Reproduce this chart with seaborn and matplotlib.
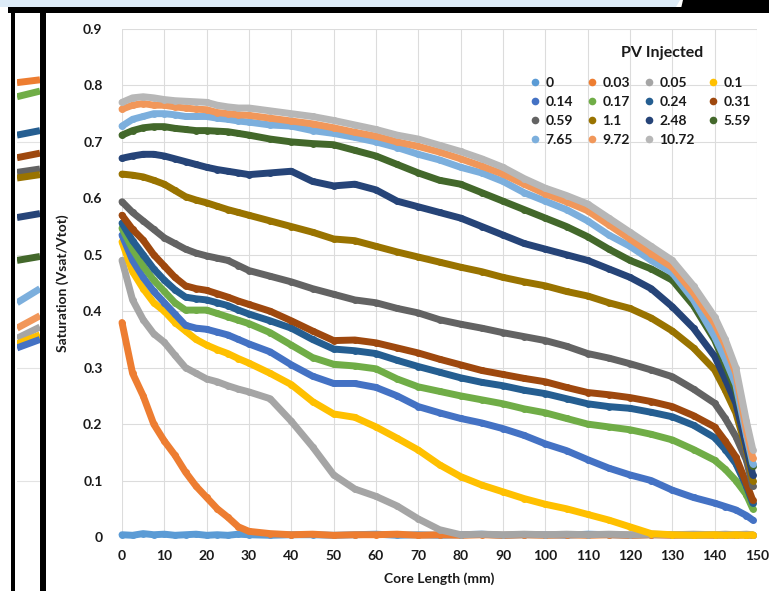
import matplotlib
matplotlib.use("Agg")
import matplotlib.pyplot as plt
from matplotlib.lines import Line2D
from matplotlib.patches import Rectangle, Polygon
import pandas as pd
import seaborn as sns

# core position (mm) of the sampled points
core_mm = [0, 2.5, 5, 7.5, 10, 12.5, 15, 17.5, 20, 22.5, 25, 27.5, 30,
           35, 40, 45, 50, 55, 60, 65, 70, 75, 80, 85, 90, 95, 100, 105,
           110, 115, 120, 125, 130, 135, 140, 142.5, 145, 147.5, 149]

# saturation profiles, one list per PV injected
pv_0 = [0.004, 0.003, 0.006, 0.004, 0.005, 0.003, 0.004, 0.005, 0.003, 0.004, 0.003, 0.005, 0.004,
        0.003, 0.004, 0.004, 0.003, 0.004, 0.005, 0.003, 0.004, 0.003, 0.004, 0.005, 0.003, 0.004,
        0.004, 0.003, 0.005, 0.004, 0.003, 0.004, 0.004, 0.003, 0.004, 0.003, 0.004, 0.004, 0.003]
pv_003 = [0.38, 0.29, 0.25, 0.2, 0.17, 0.145, 0.115, 0.09, 0.07, 0.05, 0.035, 0.018, 0.01,
          0.006, 0.004, 0.005, 0.003, 0.004, 0.004, 0.005, 0.003, 0.004, 0.003, 0.004, 0.003, 0.004,
          0.003, 0.004, 0.003, 0.004, 0.003, 0.004, 0.003, 0.004, 0.003, 0.004, 0.003, 0.004, 0.003]
pv_005 = [0.49, 0.42, 0.385, 0.36, 0.345, 0.322, 0.3, 0.29, 0.28, 0.275, 0.268, 0.262, 0.257,
          0.245, 0.205, 0.16, 0.11, 0.085, 0.072, 0.055, 0.032, 0.013, 0.004, 0.005, 0.004, 0.005,
          0.004, 0.005, 0.004, 0.005, 0.004, 0.005, 0.004, 0.005, 0.004, 0.005, 0.004, 0.005, 0.004]
pv_01 = [0.523, 0.47, 0.44, 0.415, 0.4, 0.38, 0.365, 0.35, 0.34, 0.332, 0.325, 0.316, 0.308,
         0.29, 0.27, 0.24, 0.218, 0.212, 0.195, 0.175, 0.154, 0.128, 0.107, 0.092, 0.08, 0.068,
         0.058, 0.05, 0.04, 0.03, 0.018, 0.006, 0.004, 0.003, 0.004, 0.003, 0.004, 0.003, 0.004]
pv_014 = [0.535, 0.49, 0.46, 0.435, 0.415, 0.395, 0.375, 0.37, 0.368, 0.363, 0.358, 0.35, 0.342,
          0.328, 0.305, 0.285, 0.272, 0.272, 0.265, 0.25, 0.231, 0.22, 0.21, 0.202, 0.192, 0.18,
          0.165, 0.153, 0.137, 0.122, 0.11, 0.1, 0.083, 0.07, 0.06, 0.054, 0.048, 0.038, 0.03]
pv_017 = [0.547, 0.51, 0.48, 0.455, 0.435, 0.415, 0.402, 0.402, 0.402, 0.396, 0.39, 0.384, 0.378,
          0.362, 0.34, 0.318, 0.306, 0.303, 0.298, 0.28, 0.266, 0.258, 0.25, 0.243, 0.236, 0.227,
          0.22, 0.21, 0.2, 0.195, 0.19, 0.182, 0.172, 0.155, 0.136, 0.12, 0.1, 0.075, 0.05]
pv_024 = [0.556, 0.525, 0.5, 0.475, 0.455, 0.438, 0.425, 0.422, 0.42, 0.415, 0.41, 0.402, 0.395,
          0.383, 0.37, 0.35, 0.333, 0.33, 0.325, 0.313, 0.302, 0.292, 0.282, 0.274, 0.268, 0.26,
          0.254, 0.245, 0.236, 0.231, 0.228, 0.221, 0.213, 0.198, 0.176, 0.155, 0.13, 0.09, 0.06]
pv_031 = [0.57, 0.545, 0.526, 0.5, 0.48, 0.46, 0.445, 0.44, 0.437, 0.431, 0.425, 0.418, 0.412,
          0.4, 0.383, 0.365, 0.348, 0.349, 0.344, 0.335, 0.326, 0.315, 0.305, 0.295, 0.288, 0.281,
          0.275, 0.265, 0.256, 0.252, 0.247, 0.24, 0.231, 0.215, 0.195, 0.17, 0.142, 0.095, 0.065]
pv_059 = [0.594, 0.575, 0.56, 0.545, 0.53, 0.52, 0.51, 0.503, 0.498, 0.494, 0.49, 0.481, 0.472,
          0.462, 0.452, 0.44, 0.43, 0.42, 0.415, 0.405, 0.397, 0.385, 0.377, 0.37, 0.362, 0.355,
          0.348, 0.338, 0.325, 0.317, 0.307, 0.296, 0.284, 0.262, 0.237, 0.21, 0.178, 0.136, 0.09]
pv_11 = [0.643, 0.641, 0.638, 0.632, 0.625, 0.614, 0.603, 0.597, 0.592, 0.586, 0.58, 0.575, 0.57,
         0.56, 0.55, 0.54, 0.528, 0.525, 0.515, 0.505, 0.496, 0.487, 0.478, 0.47, 0.46, 0.452,
         0.445, 0.435, 0.427, 0.415, 0.405, 0.388, 0.365, 0.335, 0.296, 0.26, 0.22, 0.155, 0.1]
pv_248 = [0.671, 0.675, 0.678, 0.678, 0.675, 0.67, 0.665, 0.66, 0.655, 0.651, 0.648, 0.645, 0.642,
          0.645, 0.648, 0.63, 0.622, 0.625, 0.615, 0.595, 0.585, 0.575, 0.565, 0.55, 0.535, 0.52,
          0.51, 0.5, 0.49, 0.475, 0.46, 0.44, 0.408, 0.37, 0.32, 0.28, 0.237, 0.16, 0.11]
pv_559 = [0.712, 0.72, 0.725, 0.727, 0.727, 0.724, 0.722, 0.72, 0.72, 0.719, 0.718, 0.715, 0.712,
          0.705, 0.7, 0.697, 0.695, 0.685, 0.675, 0.66, 0.645, 0.632, 0.625, 0.61, 0.595, 0.58,
          0.565, 0.55, 0.532, 0.51, 0.49, 0.475, 0.455, 0.41, 0.349, 0.305, 0.26, 0.185, 0.125]
pv_765 = [0.728, 0.74, 0.745, 0.75, 0.75, 0.748, 0.745, 0.745, 0.745, 0.742, 0.74, 0.737, 0.735,
          0.73, 0.728, 0.72, 0.715, 0.708, 0.7, 0.69, 0.678, 0.668, 0.655, 0.645, 0.63, 0.61,
          0.595, 0.58, 0.56, 0.535, 0.515, 0.49, 0.468, 0.42, 0.355, 0.315, 0.27, 0.18, 0.13]
pv_972 = [0.758, 0.765, 0.768, 0.765, 0.765, 0.762, 0.76, 0.758, 0.757, 0.752, 0.75, 0.748, 0.747,
          0.742, 0.737, 0.732, 0.725, 0.717, 0.71, 0.7, 0.692, 0.682, 0.67, 0.657, 0.643, 0.625,
          0.608, 0.594, 0.578, 0.553, 0.528, 0.502, 0.478, 0.432, 0.378, 0.34, 0.29, 0.19, 0.14]
pv_1072 = [0.77, 0.778, 0.78, 0.778, 0.775, 0.773, 0.772, 0.771, 0.77, 0.765, 0.762, 0.76, 0.76,
           0.755, 0.75, 0.745, 0.738, 0.73, 0.722, 0.712, 0.705, 0.694, 0.683, 0.67, 0.655, 0.635,
           0.618, 0.605, 0.59, 0.565, 0.54, 0.515, 0.49, 0.445, 0.39, 0.35, 0.3, 0.205, 0.155]

pv_labels = ["0", "0.03", "0.05", "0.1", "0.14", "0.17", "0.24", "0.31",
             "0.59", "1.1", "2.48", "5.59", "7.65", "9.72", "10.72"]
profiles = [pv_0, pv_003, pv_005, pv_01, pv_014, pv_017, pv_024, pv_031,
            pv_059, pv_11, pv_248, pv_559, pv_765, pv_972, pv_1072]
colors = ["#5B9BD5", "#ED7D31", "#A5A5A5", "#FFC000", "#4472C4", "#70AD47", "#255E91", "#9E480E",
          "#636363", "#997300", "#264478", "#43682B", "#7CAFDD", "#F1975A", "#B7B7B7"]

# bits of the neighbouring chart that show at the left edge of the screenshot
side_y_start = [0.805, 0.78, 0.712, 0.672, 0.646, 0.636, 0.566, 0.49, 0.415, 0.37, 0.352, 0.342, 0.335]
side_y_end = [0.81, 0.79, 0.72, 0.68, 0.652, 0.642, 0.573, 0.497, 0.44, 0.392, 0.372, 0.358, 0.35]
side_colors = ["#ED7D31", "#70AD47", "#255E91", "#9E480E", "#636363", "#997300", "#264478",
               "#43682B", "#7CAFDD", "#F1975A", "#A5A5A5", "#FFC000", "#4472C4"]

df = pd.DataFrame({
    "core": core_mm * len(pv_labels),
    "sat": [v for p in profiles for v in p],
    "PV": [lab for lab in pv_labels for _ in core_mm],
})

sns.set_style("white")
plt.rcParams["font.family"] = ["Lato", "DejaVu Sans"]

W, H = 769, 591
fig = plt.figure(figsize=(W / 100, H / 100), dpi=100)

# screenshot frame
fig.patches.append(Polygon([(0, 1), (680 / W, 1), (676 / W, 1 - 7 / H), (0, 1 - 7 / H)],
                           closed=True, transform=fig.transFigure, facecolor="#DDEBF7", edgecolor="none"))
fig.patches.append(Rectangle((8 / W, 1 - 13 / H), 1, 6 / H, transform=fig.transFigure,
                             facecolor="black", edgecolor="none"))
fig.patches.append(Polygon([(683 / W, 1), (1, 1), (1, 1 - 13 / H), (680 / W, 1 - 13 / H)],
                           closed=True, transform=fig.transFigure, facecolor="black", edgecolor="none"))

# side chart stubs
side = fig.add_axes([17 / W, 1 - 537 / H, 23 / W, 508 / H])
for y0, y1, c in zip(side_y_start, side_y_end, side_colors):
    side.plot([0, 1], [y0, y1], color=c, lw=5, solid_capstyle="butt")
side.set_xlim(0, 1)
side.set_ylim(0, 0.9)
side.set_yticks([0.1, 0.3, 0.5, 0.7])
side.grid(axis="y", color="#E3E3E3", lw=0.8)
side.tick_params(left=False, bottom=False, labelleft=False, labelbottom=False)
for s in side.spines.values():
    s.set_visible(False)

fig.patches.append(Rectangle((11 / W, 0), 4 / W, 1 - 13 / H, transform=fig.transFigure,
                             facecolor="black", edgecolor="none", zorder=5))
fig.patches.append(Rectangle((40 / W, 0), 6 / W, 1 - 13 / H, transform=fig.transFigure,
                             facecolor="black", edgecolor="none", zorder=5))

# main chart
ax = fig.add_axes([122 / W, 1 - 537 / H, 635 / W, 508 / H])
sns.lineplot(data=df, x="core", y="sat", hue="PV", hue_order=pv_labels,
             palette=dict(zip(pv_labels, colors)), linewidth=5, marker="o",
             markersize=5, markeredgewidth=0, sort=False, legend=False,
             solid_capstyle="round", solid_joinstyle="round", clip_on=False, ax=ax)

ax.set_xlim(0, 150)
ax.set_ylim(0, 0.9)
ax.set_xticks(range(0, 151, 10))
ax.set_yticks([0, 0.1, 0.2, 0.3, 0.4, 0.5, 0.6, 0.7, 0.8, 0.9])
ax.set_yticklabels(["0", "0.1", "0.2", "0.3", "0.4", "0.5", "0.6", "0.7", "0.8", "0.9"])
ax.grid(True, color="#DCDCDC", lw=0.8)
ax.set_axisbelow(True)
for s in ax.spines.values():
    s.set_visible(False)
ax.tick_params(length=0, labelsize=10, labelcolor="#1a1a1a")
ax.tick_params(axis="y", pad=14)
ax.tick_params(axis="x", pad=9)
for t in ax.get_xticklabels() + ax.get_yticklabels():
    t.set_fontweight("bold")

ax.set_xlabel("Core Length (mm)", fontsize=10, fontweight="bold", color="#1a1a1a")
ax.set_ylabel("Saturation (Vsat/Vtot)", fontsize=10, fontweight="bold", color="#1a1a1a")
ax.xaxis.set_label_coords(0.5, -0.07)
ax.yaxis.set_label_coords(-0.083, 0.5)

# legend filled row by row like the original, title drawn separately
order = [0, 4, 8, 12, 1, 5, 9, 13, 2, 6, 10, 14, 3, 7, 11]
handles = [Line2D([], [], ls="", marker="o", ms=5.5, mew=0, color=colors[i]) for i in order]
labels = [pv_labels[i] for i in order]
leg = ax.legend(handles, labels, ncol=4, loc="upper left", bbox_to_anchor=(0.627, 0.928),
                frameon=False, handlelength=0.6, handletextpad=0.45,
                columnspacing=1.05, labelspacing=0.5, borderpad=0.3,
                prop={"weight": "bold", "size": 10})
for t in leg.get_texts():
    t.set_color("#1a1a1a")
ax.text(0.85, 0.952, "PV Injected", transform=ax.transAxes, ha="center", va="center",
        fontsize=11.5, fontweight="bold", color="#1a1a1a")

fig.savefig("out.png", dpi=100)
